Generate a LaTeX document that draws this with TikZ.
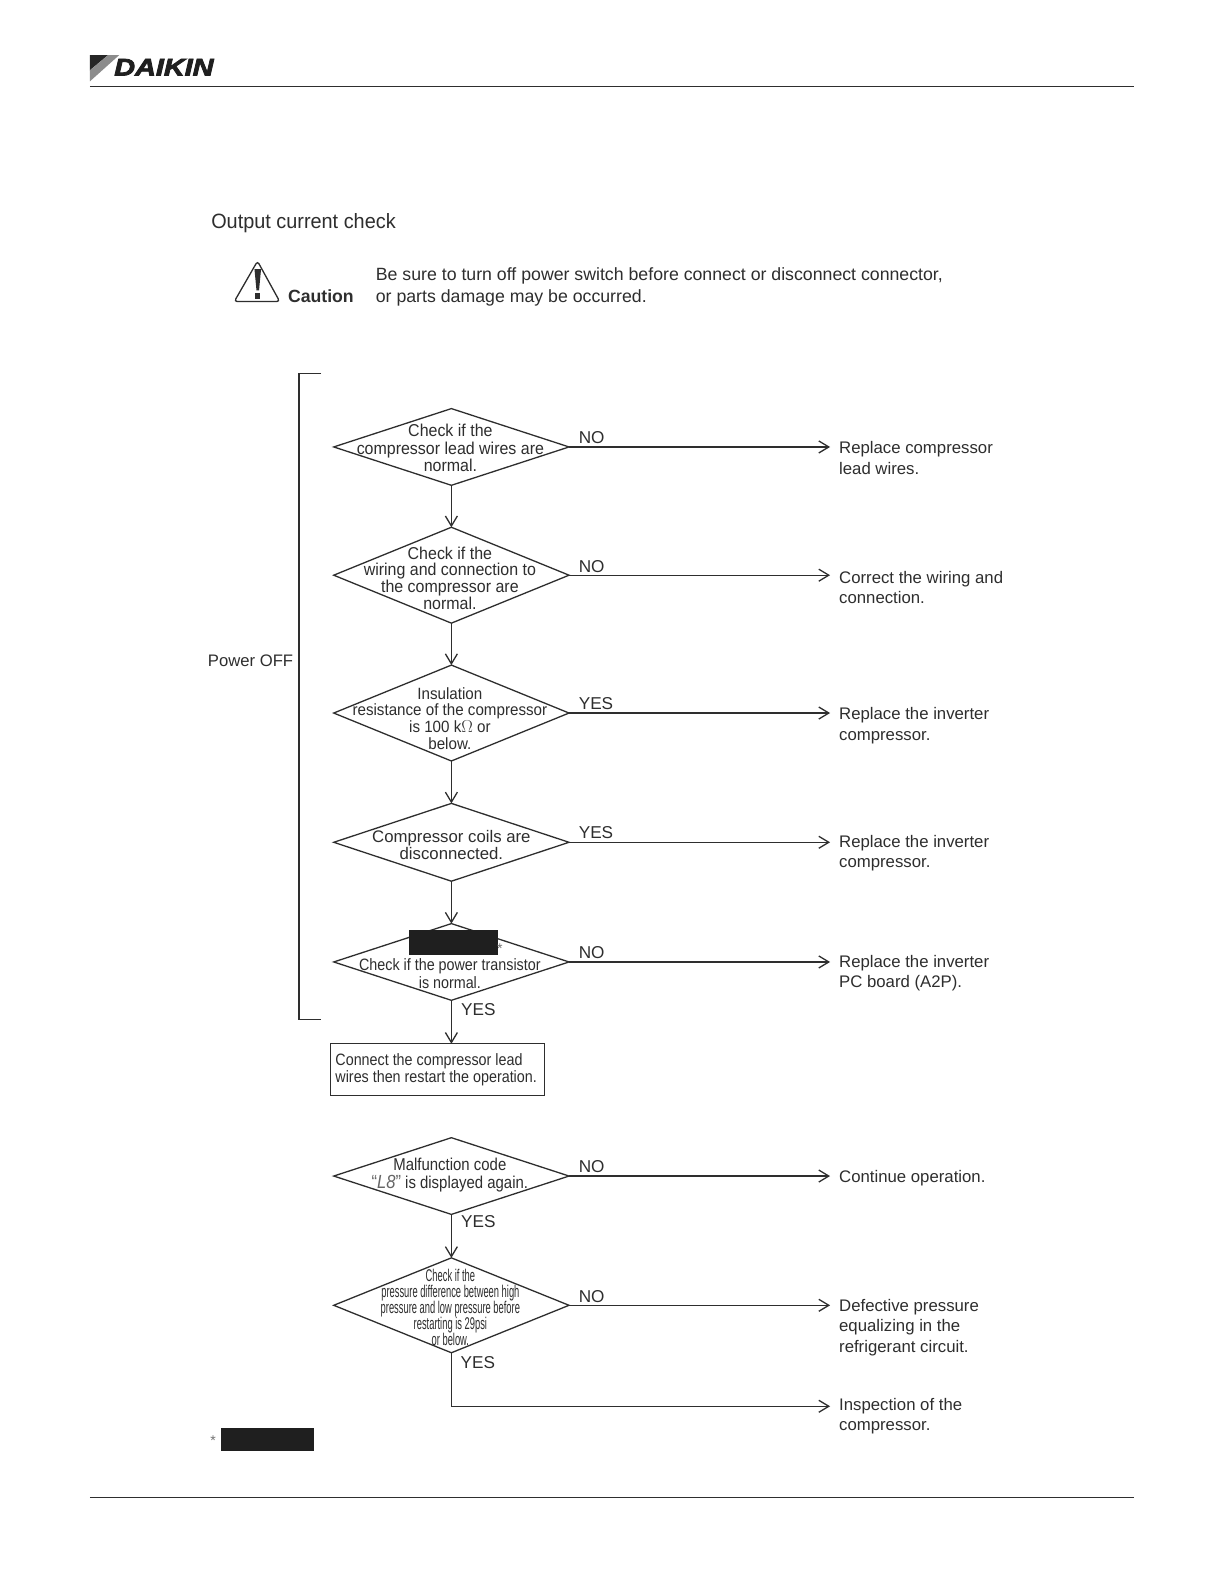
\documentclass[tikz,border=0pt]{standalone}
\usepackage{fontspec}
\setmainfont{Liberation Sans}
\newfontfamily\dfont[FakeStretch=0.93]{Liberation Sans}
\newfontfamily\efont[FakeStretch=0.87]{Liberation Sans}
\newfontfamily\tfont[FakeStretch=0.96]{Liberation Sans}
\newfontfamily\condfont[FakeStretch=0.55]{Liberation Sans}
\newfontfamily\logofont[FakeStretch=1.2,FakeBold=3.5]{Liberation Sans}
\usetikzlibrary{shapes.geometric,arrows.meta,calc}
\definecolor{ink}{HTML}{2E2E2E}
\tikzset{
  decision/.style={shape=diamond,draw=ink,line width=1.3pt,inner sep=0pt,outer sep=0pt,minimum width=235.3pt},
  dtext/.style={inner sep=0pt,align=center,text=ink,font=\dfont\fontsize{17.17}{17.2}\selectfont},
  flow/.style={draw=ink,line width=1.3pt,-{Straight Barb[length=10pt,width=12pt,line width=1.3pt]}},
  result/.style={anchor=west,inner xsep=9.1pt,inner ysep=0pt,outer sep=0pt,align=left,text=ink,font=\fontsize{16.76}{20.2}\selectfont},
  answer/.style={inner sep=0pt,text=ink,anchor=west,font=\fontsize{17.17}{20.2}\selectfont},
  rule/.style={draw=ink,line width=1.2pt},
  redact/.style={fill=black!88,draw=none,inner sep=0pt},
}
\begin{document}
\begin{tikzpicture}[x=1.0098pt,y=-1.0098pt]
\useasboundingbox[fill=white] (0,-0.6) rectangle (1212.1,1568);
% header / footer
\coordinate (hl) at (89,85); \coordinate (hr) at (1123,85);
\coordinate (fl) at (89,1482); \coordinate (fr) at (1123,1482);
\draw[rule] (hl) -- (hr);
\draw[rule] (fl) -- (fr);
% logo
\fill[black!85] (89,54) -- (107,54) -- (89,69) -- cycle;
\fill[black!45] (107,54) -- (118,54) -- (89,80) -- (89,69) -- cycle;
\node[inner sep=0pt,anchor=west,text=black!88] (logo) at (113,66) {\logofont\bfseries\itshape\fontsize{24}{24}\selectfont DAIKIN};
% title and caution
\node[inner sep=0pt,anchor=west,text=ink,font=\tfont\fontsize{20.7}{24}\selectfont] (title) at (209,220) {Output current check};
\draw[line width=1.3pt,draw=ink,rounded corners=3pt] (255,258) -- (277,298) -- (232,298) -- cycle;
\fill[ink] (252,266) -- (258.5,266) -- (256.5,287) -- (254,287) -- cycle;
\fill[ink] (253,290) rectangle (257.5,295.5);
\node[inner sep=0pt,anchor=west,text=ink,font=\fontsize{17.67}{20}\selectfont\bfseries] (caution) at (285,292.5) {Caution};
\node[inner sep=0pt,anchor=west,align=left,text=ink,font=\fontsize{17.72}{21.2}\selectfont] (note) at (372,283.5) {Be sure to turn off power switch before connect or disconnect connector,\\or parts damage may be occurred.};
% power off bracket
\coordinate (b1) at (318,369); \coordinate (b2) at (296,369); \coordinate (b3) at (296,1009); \coordinate (b4) at (318,1009);
\draw[rule] (b1) -- (b2) -- (b3) -- (b4);
\node[inner sep=0pt,anchor=east,text=ink,font=\fontsize{16.66}{20}\selectfont] (poweroff) at (290.5,654) {Power OFF};
% decisions
\node[decision,minimum height=76.7pt] (d1) at (447,442) {};
\node[decision,minimum height=95.9pt] (d2) at (447,569) {};
\node[decision,minimum height=95.9pt] (d3) at (447,705.5) {};
\node[decision,minimum height=77.8pt] (d4) at (447,833.5) {};
\node[decision,minimum height=76.7pt] (d5) at (447,952) {};
\node[decision,minimum height=76.7pt] (d6) at (447,1164) {};
\node[decision,minimum height=94.9pt] (d7) at (447,1292) {};
\node[dtext] (t1) at (446,443) {Check if the\\compressor lead wires are\\normal.};
\node[dtext,font=\dfont\fontsize{17.17}{16.9}\selectfont] (t2) at (445.5,572) {Check if the\\wiring and connection to\\the compressor are\\normal.};
\node[dtext,font=\dfont\fontsize{16.3}{16.9}\selectfont] (t3) at (445.5,711) {Insulation\\resistance of the compressor\\is 100 k$\Omega$ or\\below.};
\node[dtext,font=\fontsize{16.76}{17.2}\selectfont] (t4) at (447,836.5) {Compressor coils are\\disconnected.};
\node[dtext,font=\efont\fontsize{16.46}{17.2}\selectfont] (t5) at (445.5,963.5) {Check if the power transistor\\is normal.};
\node[dtext,font=\efont\fontsize{17.17}{17.2}\selectfont] (t6) at (445.5,1163) {Malfunction code\\{\textcolor{black!60}{\fontsize{19}{17.2}\selectfont“\textit{L8}”}} is displayed again.};
\node[dtext,font=\condfont\fontsize{17}{16.2}\selectfont] (t7) at (446,1294) {Check if the\\pressure difference between high\\pressure and low pressure before\\restarting is 29psi\\or below.};
% redactions
\node[redact,minimum width=88.9pt,minimum height=25.2pt] (red1) at (449,932.5) {};
\node[inner sep=0pt,text=black!55,font=\fontsize{14.1}{14}\selectfont] (star1) at (495,939) {*};
\node[redact,minimum width=92.9pt,minimum height=23.2pt] (red2) at (265,1424.5) {};
\node[inner sep=0pt,text=black!55,font=\fontsize{14.1}{14}\selectfont] (star2) at (211,1426) {*};
% box
\node[draw=ink,line width=1.3pt,inner sep=0pt,outer sep=0pt,minimum width=214pt,minimum height=51.5pt,anchor=north west] (box) at (327,1033) {};
\node[inner sep=0pt,anchor=west,align=left,text=ink,font=\efont\fontsize{16.46}{17.2}\selectfont] (boxt) at (332,1058.5) {Connect the compressor lead\\wires then restart the operation.};
% results
\node[result] (r1) at (822,453) {Replace compressor\\lead wires.};
\node[result] (r2) at (822,581.5) {Correct the wiring and\\connection.};
\node[result] (r3) at (822,718) {Replace the inverter\\compressor.};
\node[result] (r4) at (822,844.5) {Replace the inverter\\compressor.};
\node[result] (r5) at (822,963) {Replace the inverter\\PC board (A2P).};
\node[result] (r6) at (822,1166) {Continue operation.};
\node[result] (r7) at (822,1314) {Defective pressure\\equalizing in the\\refrigerant circuit.};
\node[result] (r8) at (822,1402) {Inspection of the\\compressor.};
% connectors
\draw[flow] (d1.south) -- (d2.north);
\draw[flow] (d2.south) -- (d3.north);
\draw[flow] (d3.south) -- (d4.north);
\draw[flow] (d4.south) -- (d5.north);
\draw[flow] (d5.south) -- (d5.south |- box.north);
\draw[flow] (d6.south) -- (d7.north);
\draw[flow] (d1.east) -- (d1.east -| r1.west);
\draw[flow] (d2.east) -- (d2.east -| r2.west);
\draw[flow] (d3.east) -- (d3.east -| r3.west);
\draw[flow] (d4.east) -- (d4.east -| r4.west);
\draw[flow] (d5.east) -- (d5.east -| r5.west);
\draw[flow] (d6.east) -- (d6.east -| r6.west);
\draw[flow] (d7.east) -- (d7.east -| r7.west);
\draw[flow] (d7.south) |- ([yshift=10.1pt]r8.west);
% answers
\node[answer] (a1) at (573,433) {NO};
\node[answer] (a2) at (573,560) {NO};
\node[answer] (a3) at (573,696.5) {YES};
\node[answer] (a4) at (573,823.5) {YES};
\node[answer] (a5) at (573,943) {NO};
\node[answer] (a6) at (573,1155) {NO};
\node[answer] (a7) at (573,1283) {NO};
\node[answer] (a8) at (456.5,999) {YES};
\node[answer] (a9) at (456.5,1209) {YES};
\node[answer] (a10) at (456,1349) {YES};
\end{tikzpicture}
\end{document}
